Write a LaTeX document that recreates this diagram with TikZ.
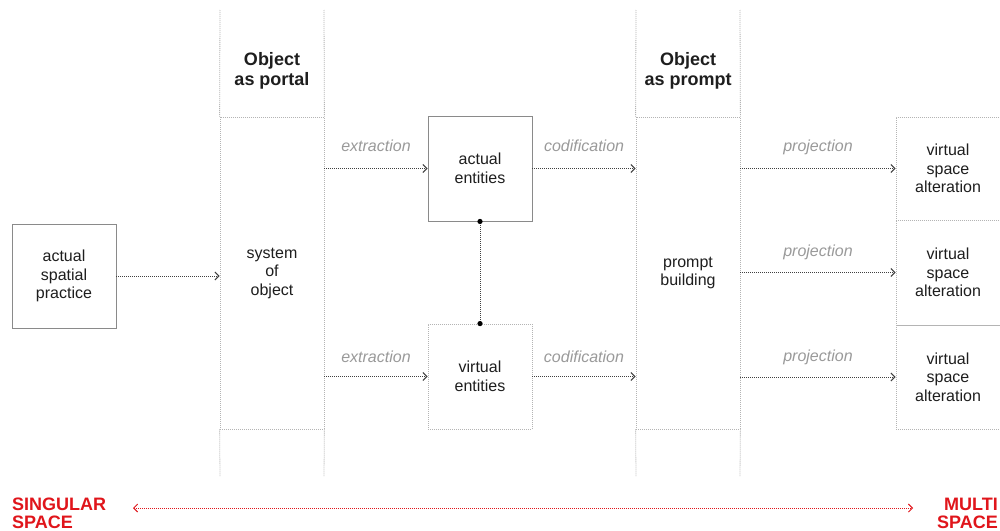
\documentclass[tikz,border=0pt]{standalone}
\usepackage{fontspec}
\setmainfont{Liberation Sans}
\usetikzlibrary{arrows.meta}
\definecolor{boxline}{HTML}{8A8A8A}
\definecolor{dotline}{HTML}{B4B4B4}
\definecolor{arrline}{HTML}{404040}
\definecolor{lblgray}{HTML}{9A9A9A}
\definecolor{txt}{HTML}{1E1E1E}
\definecolor{redc}{HTML}{E0151B}
\tikzset{
  solidbox/.style={draw=boxline, line width=0.9pt, minimum width=104pt, minimum height=104pt, inner sep=0pt, align=center, text=txt, font=\fontsize{16}{18.5}\selectfont},
  dotbox/.style={draw=dotline, line width=0.8pt, dash pattern=on 1pt off 1pt, inner sep=0pt, align=center, text=txt, font=\fontsize{16}{18.5}\selectfont, minimum width=104pt},
  colline/.style={draw=dotline, line width=0.8pt, dash pattern=on 1pt off 1pt},
  flow/.style={draw=arrline, line width=1pt, dash pattern=on 1pt off 1pt, -{Straight Barb[length=4pt,width=8pt,line width=1pt]}},
  lbl/.style={text=lblgray, font=\fontsize{16}{18}\selectfont\itshape},
  title/.style={align=center, text=txt, font=\fontsize{18}{20}\selectfont\bfseries},
  redtxt/.style={text=redc, font=\fontsize{18}{18}\selectfont\bfseries, inner sep=0pt}
}
\begin{document}
\begin{tikzpicture}[x=1pt,y=-1pt]
\useasboundingbox (0,0) rectangle (1000,530);
\fill[white] (0,0) rectangle (1000,530);

% titles
\node[title] (t1) at (272,71) {Object\\as portal};
\node[title] (t2) at (688,71) {Object\\as prompt};

% boxes
\node[solidbox] (asp) at (64,276) {actual\\spatial\\practice};
\node[dotbox, minimum height=312pt] (sys) at (272,273) {system\\of\\object};
\node[solidbox, minimum height=105pt] (ae) at (480,168.5) {actual\\entities};
\node[dotbox, minimum height=105pt] (ve) at (480,376.5) {virtual\\entities};
\node[dotbox, minimum height=312pt] (pb) at (688,273) {prompt\\building};
\node[dotbox, minimum height=103pt] (v1) at (948,168.5) {virtual\\space\\alteration};
\node[dotbox, minimum height=105pt] (v2) at (948,272.5) {virtual\\space\\alteration};
\node[dotbox, minimum height=104pt] (v3) at (948,377) {virtual\\space\\alteration};

% column lines above and below the boxes
\coordinate (c1t) at (220,10); \coordinate (c2t) at (324,10);
\coordinate (c3t) at (636,10); \coordinate (c4t) at (740,10);
\coordinate (c1b) at (220,476); \coordinate (c2b) at (324,476);
\coordinate (c3b) at (636,476); \coordinate (c4b) at (740,476);
\draw[colline] (c1t) -- (sys.north west);
\draw[colline] (c2t) -- (sys.north east);
\draw[colline] (sys.south west) -- (c1b);
\draw[colline] (sys.south east) -- (c2b);
\draw[colline] (c3t) -- (pb.north west);
\draw[colline] (c4t) -- (pb.north east);
\draw[colline] (pb.south west) -- (c3b);
\draw[colline] (pb.south east) -- (c4b);

% flows
\draw[flow] (asp.east) -- (asp.east -| sys.west);
\draw[flow] (sys.east |- ae.west) -- node[lbl, midway, yshift=23pt] {extraction} (ae.west);
\draw[flow] (sys.east |- ve.west) -- node[lbl, midway, yshift=20pt] {extraction} (ve.west);
\draw[flow] (ae.east) -- node[lbl, midway, yshift=23pt] {codification} (ae.east -| pb.west);
\draw[flow] (ve.east) -- node[lbl, midway, yshift=20pt] {codification} (ve.east -| pb.west);
\draw[flow] (pb.east |- v1.west) -- node[lbl, midway, yshift=21pt] {projection} (v1.west);
\draw[flow] (pb.east |- v2.west) -- node[lbl, midway, yshift=20pt] {projection} (v2.west);
\draw[flow] (pb.east |- v3.west) -- node[lbl, midway, yshift=20pt] {projection} (v3.west);

% link between entities
\draw[draw=arrline, line width=1pt, dash pattern=on 1pt off 1pt] (ae.south) -- (ve.north);
\fill[black] (ae.south) circle (2.6pt);
\fill[black] (ve.north) circle (2.6pt);

% bottom axis
\coordinate (la) at (133,508);
\coordinate (ra) at (913,508);
\draw[draw=redc, line width=0.9pt, dash pattern=on 1pt off 1pt, {Straight Barb[length=4pt,width=8pt,line width=0.9pt]}-{Straight Barb[length=4pt,width=8pt,line width=0.9pt]}] (la) -- (ra);
\node[redtxt, anchor=base west, align=left] (sg) at (12,528.5) {SINGULAR\\SPACE};
\node[redtxt, anchor=base east, align=right] (ms) at (998,528.5) {MULTI\\SPACE};
\end{tikzpicture}
\end{document}
